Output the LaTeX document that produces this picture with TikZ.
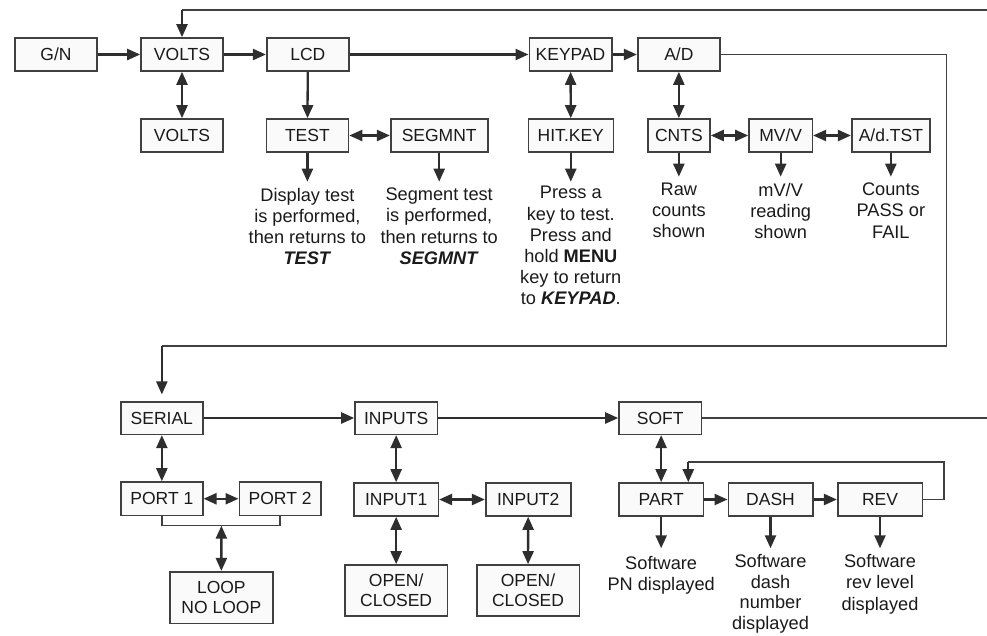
\documentclass[tikz,border=0pt]{standalone}
\usepackage{fontspec}
\setmainfont{Liberation Sans}
\usetikzlibrary{arrows.meta}
\definecolor{lncol}{HTML}{2E2E2E}
\definecolor{bdcol}{HTML}{404040}
\definecolor{fillcol}{HTML}{FAFAFA}
\definecolor{txtcol}{HTML}{1A1A1A}
\newcommand\mkbox[6]{\node[box,minimum width={#3-#2},minimum height={#5-#4}] (#1) at ({(#2+#3)/2},{(#4+#5)/2}) {#6};}
\begin{document}
\begin{tikzpicture}[x=1pt,y=-1pt,
 box/.style={draw=bdcol,line width=1.6pt,fill=fillcol,inner sep=0pt,text=txtcol,font=\fontsize{17.5}{20}\selectfont,align=center},
 desc/.style={anchor=north,inner xsep=0pt,inner ysep=6pt,align=center,text=txtcol,font=\fontsize{18.2}{21.2}\selectfont},
 arr/.style={draw=lncol,line width=2.3pt,-{Triangle[length=13pt,width=11pt]}},
 dbl/.style={draw=lncol,line width=2.3pt,{Triangle[length=13pt,width=11pt]}-{Triangle[length=13pt,width=11pt]}},
 thinln/.style={draw=bdcol,line width=1.5pt}]
\useasboundingbox (0,0) rectangle (987,635);
% top row
\mkbox{gn}{15}{97}{38}{71}{G/N}
\mkbox{volts}{141}{223}{38}{71}{VOLTS}
\mkbox{lcd}{266.7}{349}{38}{71}{LCD}
\mkbox{keypad}{529.3}{611.7}{38}{71}{KEYPAD}
\mkbox{ad}{637.7}{720}{38}{71}{A/D}
% second row
\mkbox{volts2}{141}{223}{119}{152}{VOLTS}
\mkbox{test}{266.3}{348.5}{119}{152}{TEST}
\mkbox{segmnt}{390.7}{487.7}{119}{152}{SEGMNT}
\mkbox{hitkey}{528.3}{613.3}{119}{152}{HIT.KEY}
\mkbox{cnts}{647.7}{710}{119}{152}{CNTS}
\mkbox{mvv}{749}{812.3}{119}{152}{MV/V}
\mkbox{adtst}{851.7}{930}{119}{152}{A/d.TST}
% bottom rows
\mkbox{serial}{121}{202.7}{401.7}{434.3}{SERIAL}
\mkbox{inputs}{355}{437.3}{401.7}{434.3}{INPUTS}
\mkbox{soft}{619}{701.5}{401.7}{434.3}{SOFT}
\mkbox{port1}{121}{202.7}{482}{515.5}{PORT 1}
\mkbox{port2}{239.3}{321}{482}{515.5}{PORT 2}
\mkbox{loop}{170}{272.7}{571.7}{623.3}{LOOP\\NO LOOP}
\mkbox{input1}{354}{438.3}{483}{516}{INPUT1}
\mkbox{input2}{485.7}{570.7}{483}{516}{INPUT2}
\mkbox{open1}{345}{447.3}{565}{616}{OPEN/\\CLOSED}
\mkbox{open2}{476.7}{579.3}{565}{616}{OPEN/\\CLOSED}
\mkbox{part}{619}{703.3}{483}{516}{PART}
\mkbox{dash}{728.3}{812.7}{483}{516}{DASH}
\mkbox{rev}{837.7}{922.3}{483}{516}{REV}
% helper coordinates
\coordinate (r1) at (0,181.7);
\coordinate (r2) at (0,176.7);
\coordinate (r3) at (0,548.3);
\coordinate (tr) at (987,10);
\coordinate (adc) at (946.7,346);
\coordinate (rl) at (944,462);
\coordinate (pl) at (688.3,462);
\coordinate (br) at (221.4,525.7);
\coordinate (se) at (987,0);
% description texts
\node[desc] (testtxt) at (test.south |- r1) {Display test\\is performed,\\then returns to\\\textbf{\textit{TEST}}};
\node[desc] (segtxt) at (segmnt.south |- r1) {Segment test\\is performed,\\then returns to\\\textbf{\textit{SEGMNT}}};
\node[desc,inner ysep=4.5pt] (hittxt) at (hitkey.south |- r1) {Press a\\key to test.\\Press and\\hold \textbf{MENU}\\key to return\\to \textbf{\textit{KEYPAD}}.};
\node[desc] (cntstxt) at (cnts.south |- r2) {Raw\\counts\\shown};
\node[desc] (mvvtxt) at (mvv.south |- r2) {mV/V\\reading\\shown};
\node[desc] (adtsttxt) at (adtst.south |- r2) {Counts\\PASS or\\FAIL};
\node[desc,inner ysep=7.5pt] (parttxt) at (part.south |- r3) {Software\\PN displayed};
\node[desc,inner ysep=6pt,font=\fontsize{18.2}{20.6}\selectfont] (dashtxt) at (dash.south |- r3) {Software\\dash\\number\\displayed};
\node[desc,inner ysep=6pt] (revtxt) at (rev.south |- r3) {Software\\rev level\\displayed};
% top row connectors
\draw[arr] (gn) -- (volts);
\draw[arr] (volts) -- (lcd);
\draw[arr] (lcd) -- (keypad);
\draw[arr] (keypad) -- (ad);
\draw[thinln] (tr) -- (volts.north |- tr);
\draw[arr] (volts.north |- tr) -- (volts.north);
\draw[dbl] (volts) -- (volts2);
\draw[arr] (lcd) -- (test);
\draw[dbl] (test) -- (segmnt);
\draw[dbl] (keypad) -- (hitkey);
\draw[dbl] (ad) -- (cnts);
\draw[dbl] (cnts) -- (mvv);
\draw[dbl] (mvv) -- (adtst);
\draw[arr] (test) -- (testtxt);
\draw[arr] (segmnt) -- (segtxt);
\draw[arr] (hitkey) -- (hittxt);
\draw[arr] (cnts) -- (cntstxt);
\draw[arr] (mvv) -- (mvvtxt);
\draw[arr] (adtst) -- (adtsttxt);
% link to second part
\draw[thinln] (ad.east) -| (adc) -- (serial.north |- adc);
\draw[arr,shorten >=6.5pt] (serial.north |- adc) -- (serial.north);
% bottom connectors
\draw[arr] (serial) -- (inputs);
\draw[arr] (inputs) -- (soft);
\draw[thinln] (soft.east) -- (soft.east -| se);
\draw[dbl] (serial) -- (port1);
\draw[dbl] (port1) -- (port2);
\draw[thinln] (port1.south) |- (br) -| (port2.south);
\draw[dbl] (br) -- (loop.north);
\draw[dbl] (inputs) -- (input1);
\draw[dbl] (input1) -- (input2);
\draw[dbl] (input1) -- (open1);
\draw[dbl] (input2) -- (open2);
\draw[dbl] (part.north |- soft.south) -- (part.north);
\draw[arr] (part) -- (dash);
\draw[arr] (dash) -- (rev);
\draw[thinln] (rev.east) -| (rl) -- (pl);
\draw[arr] (pl) -- (pl |- part.north);
\draw[arr] (part) -- (parttxt);
\draw[arr] (dash) -- (dashtxt);
\draw[arr] (rev) -- (revtxt);
\end{tikzpicture}
\end{document}
